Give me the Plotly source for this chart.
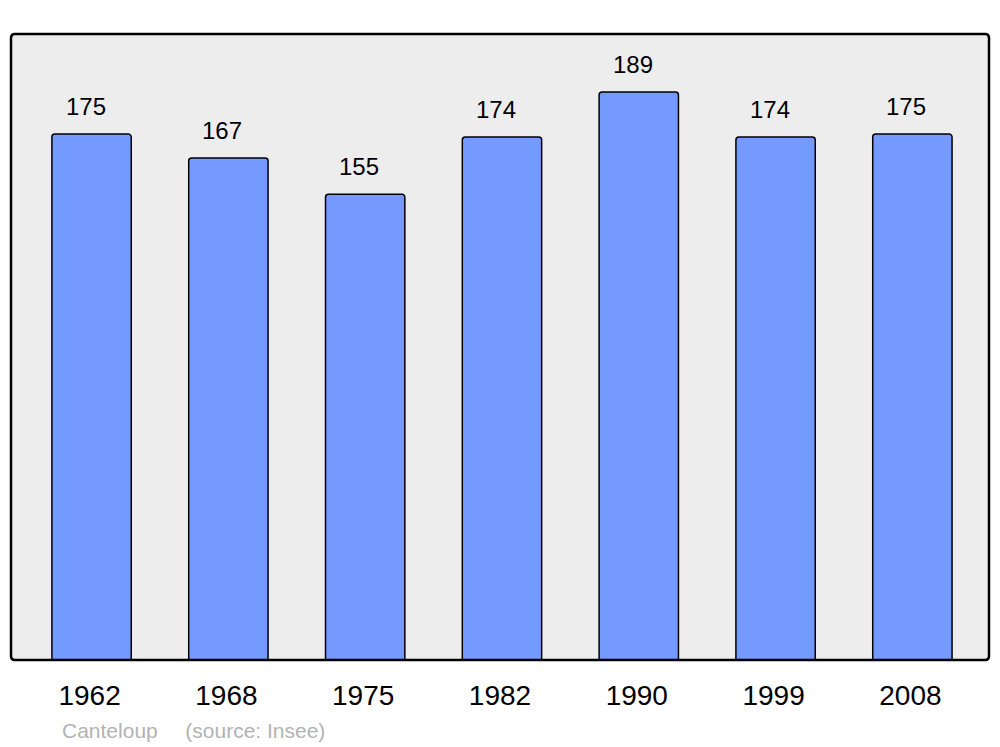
import plotly.graph_objects as go

years = ["1962", "1968", "1975", "1982", "1990", "1999", "2008"]
population = [175, 167, 155, 174, 189, 174, 175]

FONT = "Liberation Sans, Arial, sans-serif"
W, H = 1000, 747
L, R, T, B = 11, 11, 34, 87
PW, PH = W - L - R, H - T - B

fig = go.Figure()
fig.add_trace(go.Bar(
    x=list(range(len(years))), y=population, width=0.58,
    marker=dict(color="#7499ff", line=dict(color="#000000", width=1.5), cornerradius=3),
    hovertext=years, hoverinfo="text+y",
))

for i, v in enumerate(population):
    fig.add_annotation(x=i, y=v, text=str(v), showarrow=False,
                       yanchor="middle", yshift=28, xshift=-6,
                       font=dict(family=FONT, size=24, color="#000"))

fig.add_annotation(xref="paper", yref="paper", x=(60 - L) / PW, y=-(730 - 660) / PH,
                   xanchor="left", yanchor="middle", showarrow=False,
                   text="Canteloup&nbsp;&nbsp;&nbsp;&nbsp;&#8201;(source: Insee)",
                   font=dict(family=FONT, size=21, color="#b3b3b3"))

# rounded frame around plot area
rx, ry = 4 / PW, 4 / PH
path = (f"M {rx},0 L {1-rx},0 Q 1,0 1,{ry} L 1,{1-ry} Q 1,1 {1-rx},1 "
        f"L {rx},1 Q 0,1 0,{1-ry} L 0,{ry} Q 0,0 {rx},0 Z")
fig.add_shape(type="path", xref="paper", yref="paper", path=path,
              line=dict(color="#000", width=2.5), layer="above")

fig.update_layout(
    width=W, height=H,
    margin=dict(l=L, r=R, t=T, b=B),
    paper_bgcolor="#ffffff", plot_bgcolor="#ededed",
    showlegend=False,
    xaxis=dict(type="linear", range=[-0.589, 6.56], showgrid=False, zeroline=False, showline=False,
               tickmode="array", tickvals=list(range(len(years))), ticktext=years,
               ticks="", ticklabelstandoff=16, ticklabelshift=-2,
               tickfont=dict(family=FONT, size=28, color="#000")),
    yaxis=dict(range=[0, 208.3], showgrid=False, zeroline=False, showticklabels=False, ticks=""),
)

fig.write_html("out.html", config={"displayModeBar": False},
               post_script="document.body.style.margin='0';document.body.style.overflow='hidden';")
